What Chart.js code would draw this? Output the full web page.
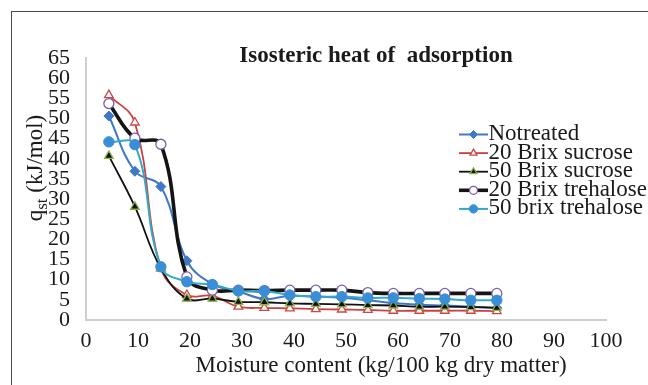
<!DOCTYPE html>
<html>
<head>
<meta charset="utf-8">
<script src="https://cdn.jsdelivr.net/npm/chart.js@4/dist/chart.umd.min.js"></script>
<style>
  html, body { margin: 0; padding: 0; background: #fff; }
  #wrap { position: relative; width: 648px; height: 385px; overflow: hidden; }
  #frame { position: absolute; left: 11px; top: 11px; width: 700px; height: 420px;
           border-left: 1.5px solid #4a4a4a; border-top: 1.5px solid #4a4a4a; }
  canvas { position: absolute; left: 0; top: 0; }
</style>
</head>
<body>
<div id="wrap">
  <div id="frame"></div>
  <canvas id="chart" width="648" height="385"></canvas>
</div>
<script>
// moisture content (kg/100 kg dry matter)
const moisture = [4.4, 9.4, 14.4, 19.4, 24.3, 29.3, 34.3, 39.2, 44.2, 49.2, 54.2, 59.1, 64.1, 69.0, 74.0, 79.0];

// qst (kJ/mol) per treatment
const notreated   = [50.6, 36.9, 33.1, 14.7, 8.9, 7.1, 5.2, 6.0, 5.8, 5.5, 4.9, 4.2, 3.8, 3.6, 3.3, 3.0];
const sucrose20   = [55.8, 49.0, 12.8, 6.2, 6.0, 3.3, 3.0, 2.9, 2.7, 2.6, 2.5, 2.3, 2.3, 2.3, 2.3, 2.2];
const sucrose50   = [40.7, 28.1, 12.8, 5.3, 5.3, 4.5, 4.4, 4.1, 4.0, 3.9, 3.7, 3.6, 3.3, 3.3, 3.2, 3.0];
const trehalose20 = [53.7, 45.1, 43.6, 10.7, 7.4, 7.4, 7.3, 7.4, 7.4, 7.4, 6.8, 6.6, 6.6, 6.6, 6.6, 6.6];
const trehalose50 = [44.2, 43.5, 13.2, 9.5, 8.8, 7.2, 7.2, 6.2, 5.8, 5.8, 5.5, 5.5, 5.3, 5.2, 4.9, 4.9];

const seriesNames = ['Notreated', '20 Brix sucrose', '50 Brix sucrose', '20 Brix trehalose', '50 brix trehalose'];
const seriesData = [notreated, sucrose20, sucrose50, trehalose20, trehalose50];

const xTicks = [0, 10, 20, 30, 40, 50, 60, 70, 80, 90, 100];
const yTicks = [0, 5, 10, 15, 20, 25, 30, 35, 40, 45, 50, 55, 60, 65];

const serif = '"Liberation Serif", "Times New Roman", serif';

// look of each series (Excel-ish)
const looks = [
  { line: '#3f78c6', width: 2,   style: 'rectRot',  r: 5,   fill: '#3f78c6', edge: '#3f78c6', bw: 1 },
  { line: '#c9423f', width: 1.8, style: 'triangle', r: 5,   fill: '#ffffff', edge: '#d04545', bw: 1.3 },
  { line: '#111111', width: 1.8, style: 'triangle', r: 5,   fill: '#111111', edge: '#8db04a', bw: 1.3 },
  { line: '#141414', width: 3.6, style: 'circle',   r: 5,   fill: '#ffffff', edge: '#7a5bb0', bw: 1.3 },
  { line: '#31aac9', width: 2,   style: 'circle',   r: 5.2, fill: '#3a8ed6', edge: '#3a8ed6', bw: 1 }
];

const datasets = seriesData.map((vals, i) => ({
  label: seriesNames[i],
  data: vals.map((v, k) => ({ x: moisture[k], y: v })),
  borderColor: looks[i].line,
  borderWidth: looks[i].width,
  backgroundColor: looks[i].fill,
  pointStyle: looks[i].style,
  pointRadius: looks[i].r,
  pointBackgroundColor: looks[i].fill,
  pointBorderColor: looks[i].edge,
  pointBorderWidth: looks[i].bw,
  tension: 0.4,
  fill: false,
  order: seriesData.length - 1 - i
}));

// titles and legend drawn over the chart
const decor = {
  id: 'decor',
  afterDraw(chart) {
    const ctx = chart.ctx;
    ctx.save();
    ctx.fillStyle = '#1a1a1a';

    // chart title
    ctx.font = 'bold 23px ' + serif;
    ctx.textAlign = 'center';
    ctx.textBaseline = 'alphabetic';
    ctx.fillText('Isosteric heat of  adsorption', 376, 61.5);

    // x axis title
    ctx.font = '23px ' + serif;
    ctx.fillText('Moisture content (kg/100 kg dry matter)', 381, 372);

    // y axis title with subscript
    ctx.save();
    ctx.translate(35, 168);
    ctx.rotate(-Math.PI / 2);
    ctx.textAlign = 'left';
    const big = '23px ' + serif, small = '17px ' + serif;
    ctx.font = big;
    const wq = ctx.measureText('q').width;
    const wRest = ctx.measureText(' (kJ/mol)').width;
    ctx.font = small;
    const wSt = ctx.measureText('st').width;
    let x0 = -(wq + wSt + wRest) / 2;
    ctx.font = big;
    ctx.fillText('q', x0, 7);
    ctx.font = small;
    ctx.fillText('st', x0 + wq, 12);
    ctx.font = big;
    ctx.fillText(' (kJ/mol)', x0 + wq + wSt, 7);
    ctx.restore();

    // legend
    ctx.textAlign = 'left';
    ctx.font = '23px ' + serif;
    chart.data.datasets.forEach((ds, i) => {
      const base = 140 + i * 18.6;
      const ly = base - 5.5;
      ctx.strokeStyle = ds.borderColor;
      ctx.lineWidth = ds.borderWidth;
      ctx.beginPath();
      ctx.moveTo(459, ly);
      ctx.lineTo(488, ly);
      ctx.stroke();
      ctx.fillStyle = ds.pointBackgroundColor;
      ctx.strokeStyle = ds.pointBorderColor;
      ctx.lineWidth = ds.pointBorderWidth;
      Chart.helpers.drawPoint(ctx, {
        pointStyle: ds.pointStyle, radius: ds.pointRadius - 1, rotation: 0, borderWidth: ds.pointBorderWidth
      }, 473.5, ly);
      ctx.fillStyle = '#1a1a1a';
      ctx.fillText(ds.label, 488.5, base);
    });
    ctx.restore();
  }
};

new Chart(document.getElementById('chart'), {
  type: 'line',
  data: { datasets: datasets },
  options: {
    responsive: false,
    animation: false,
    layout: { padding: { left: 10, right: 42, top: 58, bottom: 0 } },
    plugins: {
      legend: { display: false },
      title: { display: false },
      tooltip: { enabled: false }
    },
    scales: {
      x: {
        type: 'linear',
        min: 0,
        max: 100,
        afterFit: (s) => { s.height = 65; },
        afterBuildTicks: (s) => { s.ticks = xTicks.map(v => ({ value: v })); },
        grid: { display: false },
        border: { display: true, color: '#cfcfcf', width: 2 },
        ticks: { color: '#1a1a1a', font: { family: serif, size: 22 }, padding: 0, maxRotation: 0, autoSkip: false }
      },
      y: {
        type: 'linear',
        min: 0,
        max: 65,
        afterFit: (s) => { s.width = 76; },
        afterBuildTicks: (s) => { s.ticks = yTicks.map(v => ({ value: v })); },
        grid: { display: false },
        border: { display: true, color: '#cfcfcf', width: 2 },
        ticks: { color: '#1a1a1a', font: { family: serif, size: 22 }, padding: 8, autoSkip: false }
      }
    }
  },
  plugins: [decor]
});
</script>
</body>
</html>
